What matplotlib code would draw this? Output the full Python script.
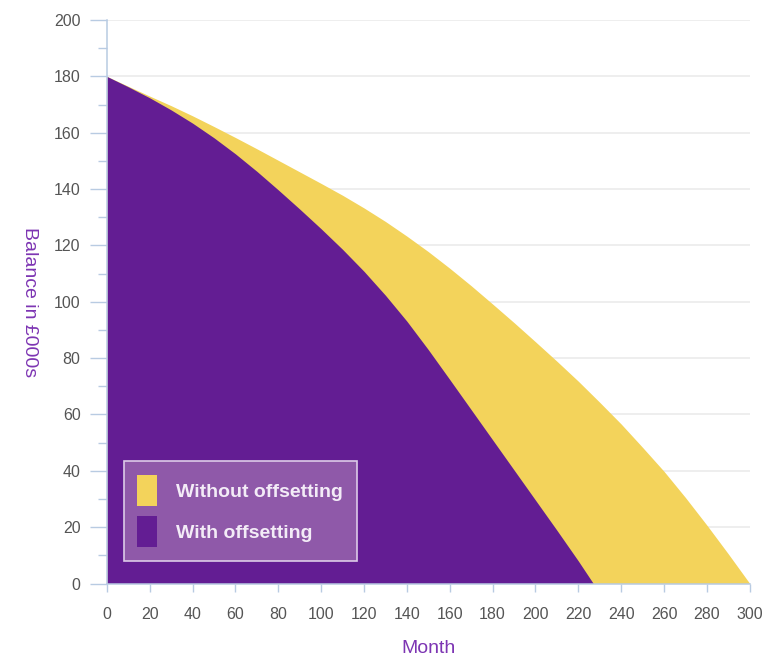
import matplotlib.pyplot as plt
from matplotlib.patches import Patch
from matplotlib.ticker import MultipleLocator

plt.rcParams['font.family'] = ['Liberation Sans', 'DejaVu Sans']

# mortgage balance (in £000s) by month
months_without = [0, 10, 20, 30, 40, 50, 60, 70, 80, 90, 100, 110, 120, 130, 140, 150,
                  160, 170, 180, 190, 200, 210, 220, 230, 240, 250, 260, 270, 280, 290, 300]
balance_without = [180, 176.5, 173, 169.6, 166, 162.2, 158.3, 154.3, 150.2, 146.1, 142,
                   137.8, 133.3, 128.5, 123.3, 117.8, 111.9, 105.7, 99.2, 92.6, 85.8,
                   78.9, 71.8, 64.3, 56.6, 48.3, 39.8, 30.5, 20.7, 10.5, 0]

months_with = [0, 10, 20, 30, 40, 50, 60, 70, 80, 90, 100, 110, 120, 130, 140, 150,
               160, 170, 180, 190, 200, 210, 220, 227]
balance_with = [180, 176.3, 172.4, 168.1, 163.4, 158.2, 152.5, 146.3, 139.7, 132.9, 125.9,
                118.6, 110.8, 102.3, 93.1, 83.0, 72.4, 61.7, 51.0, 40.3, 29.6, 18.9, 8.0, 0]

yellow = '#f3d35b'
purple = '#631d93'
axis_blue = '#b8cbe2'
label_purple = '#7d35b3'

fig = plt.figure(figsize=(7.69, 6.64), dpi=100)
ax = fig.add_axes([0.139, 0.1212, 0.836, 0.8486])

ax.fill_between(months_without, 0, balance_without, color=yellow, lw=0, zorder=2)
ax.fill_between(months_with, 0, balance_with, color=purple, lw=0, zorder=3)

ax.set_xlim(0, 300)
ax.set_ylim(0, 200)
ax.xaxis.set_major_locator(MultipleLocator(20))
ax.yaxis.set_major_locator(MultipleLocator(20))
ax.yaxis.set_minor_locator(MultipleLocator(10))

ax.grid(axis='y', which='major', color='#ebebeb', lw=1.2, zorder=1)
ax.set_axisbelow(True)

for side in ['top', 'right']:
    ax.spines[side].set_visible(False)
for side in ['left', 'bottom']:
    ax.spines[side].set_color(axis_blue)
    ax.spines[side].set_linewidth(1.1)
    ax.spines[side].set_zorder(4)

ax.tick_params(axis='y', which='major', length=12, width=1, color=axis_blue,
               labelsize=11.5, labelcolor='#555555', pad=7)
ax.tick_params(axis='y', which='minor', length=6.5, width=1, color=axis_blue)
ax.tick_params(axis='x', which='major', length=6, width=1, color=axis_blue,
               labelsize=11.5, labelcolor='#555555', pad=11)

ax.set_xlabel('Month', fontsize=14, color=label_purple, va='center')
ax.xaxis.set_label_coords(0.5, -0.1145)
ax.set_ylabel('Balance in £000s', fontsize=14, color=label_purple, rotation=-90, va='center')
ax.yaxis.set_label_coords(-0.12, 0.5)

handles = [Patch(facecolor=yellow, edgecolor='none', label='Without offsetting'),
           Patch(facecolor=purple, edgecolor='none', label='With offsetting')]
leg = ax.legend(handles=handles, loc='lower left', bbox_to_anchor=(0.0264, 0.040),
                borderaxespad=0, fancybox=False, fontsize=14,
                handlelength=1.0, handleheight=2.1, handletextpad=1.0,
                labelspacing=0.5, borderpad=0.7, framealpha=1)
leg.get_frame().set_facecolor('#8f59a9')
leg.get_frame().set_edgecolor('#dccbe8')
leg.get_frame().set_linewidth(1.2)
leg.set_zorder(5)
for t in leg.get_texts():
    t.set_color('#f3ecf7')
    t.set_fontweight('bold')

fig.savefig('out.png', dpi=100)
